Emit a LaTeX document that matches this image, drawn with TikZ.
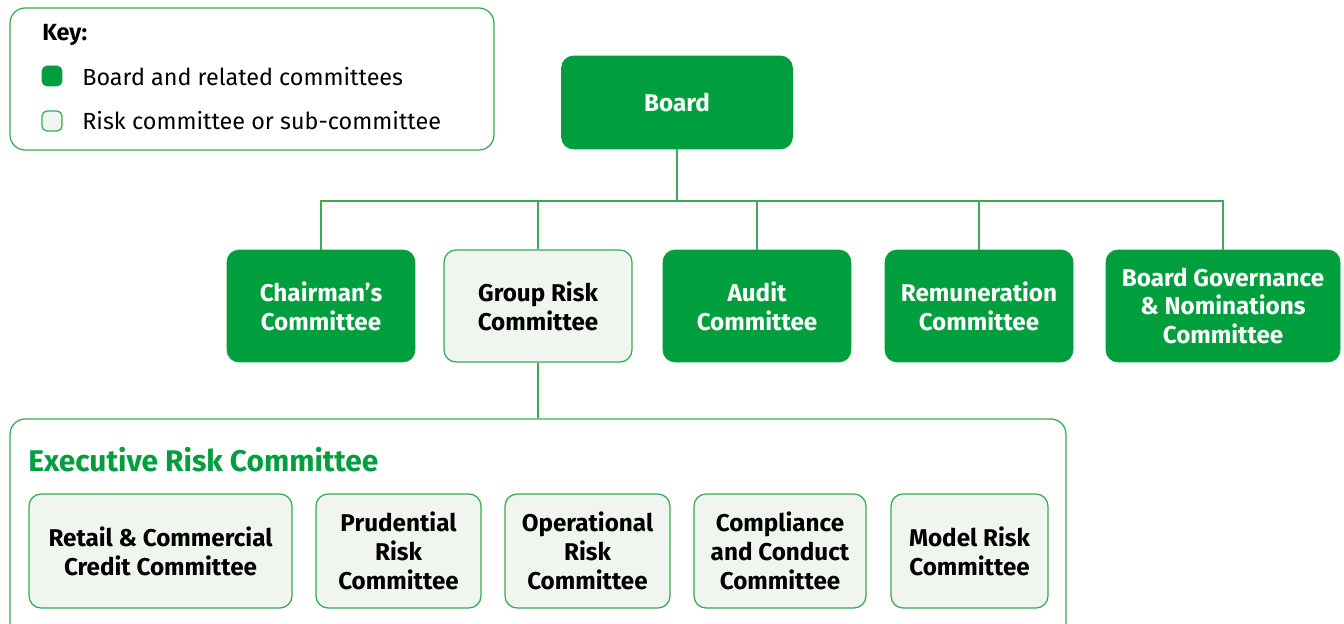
\documentclass[tikz,border=0pt]{standalone}
\usepackage{fontspec}
\setmainfont{Fira Sans}
\usepackage{xcolor}
\usetikzlibrary{positioning}
\definecolor{boardgreen}{HTML}{009E3D}
\definecolor{riskfill}{HTML}{F0F5EF}
\definecolor{riskedge}{HTML}{35AA55}
\definecolor{linkgreen}{HTML}{3DA95A}
\begin{document}
\begin{tikzpicture}[x=0.02cm, y=-0.02cm,
		boardbox/.style={fill=boardgreen, draw=boardgreen, rounded corners=0.24cm, text=white, align=center, font=\fontsize{13.8}{16.5}\selectfont\bfseries, inner sep=0pt},
		riskbox/.style={fill=riskfill, draw=riskedge, line width=0.7pt, rounded corners=0.24cm, text=black, align=center, font=\fontsize{13.8}{16.5}\selectfont\bfseries, inner sep=0pt},
		link/.style={draw=linkgreen, line width=0.6pt},
		keytext/.style={anchor=west, inner sep=0pt, font=\fontsize{13.3}{16}\selectfont}]
			\useasboundingbox (0,0) rectangle (1344,624);
			\clip (0,0) rectangle (1344,624);
			% key
			\node[draw=riskedge, line width=0.7pt, rounded corners=0.3cm, minimum width=9.68cm, minimum height=2.84cm] (key) at (252,79) {};
			\node[keytext, font=\fontsize{13.3}{16}\selectfont\bfseries] (keytitle) at (42,35) {Key:};
			\node[boardbox, minimum width=0.4cm, minimum height=0.4cm, rounded corners=0.1cm] (keydark) at (52,76) {};
			\node[riskbox, minimum width=0.4cm, minimum height=0.4cm, rounded corners=0.1cm] (keylight) at (52,121) {};
			\node[keytext] (keydarktext) at (82,77) {Board and related committees};
			\node[keytext] (keylighttext) at (82,121) {Risk committee or sub-committee};
			% board and committees
			\node[boardbox, minimum width=4.62cm, minimum height=1.86cm] (board) at (677,102.5) {Board};
			\node[boardbox, minimum width=3.76cm, minimum height=2.24cm] (chair) at (321,306) {Chairman's\\Committee};
			\node[riskbox, minimum width=3.76cm, minimum height=2.24cm] (grc) at (538,306) {Group Risk\\Committee};
			\node[boardbox, minimum width=3.76cm, minimum height=2.24cm] (audit) at (757,306) {Audit\\Committee};
			\node[boardbox, minimum width=3.76cm, minimum height=2.24cm] (remun) at (979,306) {Remuneration\\Committee};
			\node[boardbox, minimum width=4.68cm, minimum height=2.24cm] (gov) at (1223,306) {Board Governance\\\& Nominations\\Committee};
			\coordinate (bus) at (677,201);
			\draw[link] (board.south) -- (bus);
			\foreach \n in {chair,grc,audit,remun,gov}
				\draw[link] (\n.north) |- (bus);
			% executive risk committee
			\node[draw=riskedge, line width=0.7pt, rounded corners=0.3cm, minimum width=21.12cm, minimum height=4.82cm] (exec) at (538,539.5) {};
			\draw[link] (grc.south) -- (grc.south |- exec.north);
			\node[anchor=west, inner sep=0pt, text=boardgreen, font=\fontsize{17}{20}\selectfont\bfseries] (exectitle) at (28,460) {Executive Risk Committee};
			\node[riskbox, minimum width=5.26cm, minimum height=2.28cm] (retail) at (160.5,551) {Retail \& Commercial\\Credit Committee};
			\node[riskbox, minimum width=3.3cm, minimum height=2.28cm] (prud) at (398.5,551) {Prudential\\Risk\\Committee};
			\node[riskbox, minimum width=3.3cm, minimum height=2.28cm] (oper) at (587.5,551) {Operational\\Risk\\Committee};
			\node[riskbox, minimum width=3.44cm, minimum height=2.28cm] (compl) at (780,551) {Compliance\\and Conduct\\Committee};
			\node[riskbox, minimum width=3.14cm, minimum height=2.28cm] (model) at (969.5,551) {Model Risk\\Committee};
		\end{tikzpicture}
\end{document}
